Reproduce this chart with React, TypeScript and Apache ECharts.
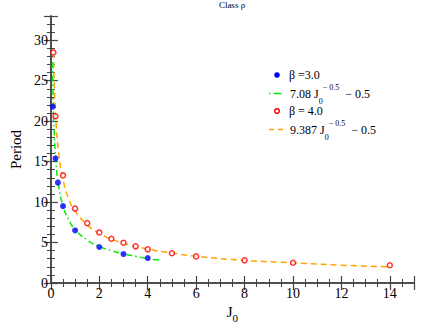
import React, { useEffect, useRef } from "react";
import * as echarts from "echarts";

// β = 3.0 data (blue dots)
const beta3J = [0.08, 0.19, 0.29, 0.5, 1, 2, 3, 4];
const beta3P = [21.8, 15.4, 12.4, 9.5, 6.5, 4.45, 3.58, 3.08];

// β = 4.0 data (red open circles)
const beta4J = [0.1, 0.19, 0.5, 1, 1.5, 2, 2.5, 3, 3.5, 4, 5, 6, 8, 10, 14];
const beta4P = [28.5, 20.6, 13.3, 9.2, 7.4, 6.25, 5.47, 4.98, 4.53, 4.16, 3.67, 3.29, 2.8, 2.5, 2.2];

// Fit curve 7.08 J0^-0.5 - 0.5 (green)
const fit3J = [0.065, 0.1, 0.15, 0.2, 0.3, 0.5, 0.75, 1, 1.5, 2, 2.5, 3, 3.5, 4, 4.6];
const fit3P = [27.3, 21.9, 17.8, 15.3, 12.4, 9.5, 7.7, 6.6, 5.3, 4.5, 4.0, 3.6, 3.3, 3.0, 2.8];

// Fit curve 9.387 J0^-0.5 - 0.5 (orange)
const fit4J = [0.105, 0.15, 0.2, 0.3, 0.5, 0.75, 1, 1.5, 2, 3, 4, 5, 6, 8, 10, 12, 14];
const fit4P = [28.5, 23.7, 20.5, 16.6, 12.8, 10.3, 8.9, 7.2, 6.1, 4.9, 4.2, 3.7, 3.3, 2.8, 2.5, 2.2, 2.0];

const FONT = "Liberation Serif";

const zip = (a: number[], b: number[]) => a.map((v, i) => [v, b[i]]);

export default function App() {
  const ref = useRef<HTMLDivElement>(null);
  useEffect(() => {
    if (!ref.current) return;
    const chart = echarts.init(ref.current, undefined, { renderer: "svg" });
    const axisLine = { show: true, lineStyle: { color: "#444", width: 1.5 } };
    const tick = { show: true, inside: true, length: 7, lineStyle: { color: "#444", width: 1.2 } };
    const xBase = {
      type: "value" as const,
      min: 0,
      max: 15,
      interval: 2,
      axisLine,
      axisTick: tick,
      minorTick: { show: true, splitNumber: 4, length: 4, lineStyle: { color: "#444", width: 1 } },
      splitLine: { show: false },
    };
    const yBase = {
      type: "value" as const,
      min: 0,
      max: 33,
      interval: 5,
      axisLine,
      axisTick: tick,
      minorTick: { show: true, splitNumber: 5, length: 4, lineStyle: { color: "#444", width: 1 } },
      splitLine: { show: false },
    };
    const rich = {
      n: { fontFamily: FONT, fontSize: 12, color: "#000", lineHeight: 22 },
      sub: { fontFamily: FONT, fontSize: 8, color: "#000", verticalAlign: "bottom" as const, lineHeight: 9 },
      sup: { fontFamily: FONT, fontSize: 8, color: "#000", verticalAlign: "top" as const, lineHeight: 9 },
    };
    chart.setOption({
      animation: false,
      backgroundColor: "#fff",
      title: {
        text: "Class ρ",
        left: 232,
        textAlign: "center",
        top: 0,
        padding: 0,
        textStyle: { fontFamily: FONT, fontSize: 9, fontWeight: "normal", color: "#000" },
      },
      grid: { left: 50, right: 17, top: 16, bottom: 50 },
      xAxis: [
        {
          ...xBase,
          position: "bottom",
          name: "J{s|0}",
          nameLocation: "middle",
          nameGap: 12,
          nameTextStyle: {
            fontFamily: FONT,
            fontSize: 15,
            color: "#000",
            rich: { s: { fontFamily: FONT, fontSize: 11, color: "#000", verticalAlign: "bottom", padding: [12, 0, 0, 0] } },
          },
          axisLabel: { fontFamily: FONT, fontSize: 14, color: "#000", margin: 3, showMaxLabel: false },
        },
        { ...xBase, position: "top", axisLabel: { show: false } },
      ],
      yAxis: [
        {
          ...yBase,
          position: "left",
          name: "Period",
          nameLocation: "middle",
          nameGap: 18,
          nameTextStyle: { fontFamily: FONT, fontSize: 15, color: "#000" },
          axisLabel: { fontFamily: FONT, fontSize: 14, color: "#000", margin: 3, showMaxLabel: false,
            formatter: (v: number) => (v % 5 === 0 ? String(v) : "") },
        },
        { ...yBase, position: "right", axisLabel: { show: false } },
      ],
      series: [
        {
          type: "line",
          data: zip(fit3J, fit3P),
          smooth: true,
          showSymbol: false,
          lineStyle: { color: "#00ee00", width: 1.5, type: [6, 3, 1.5, 3] },
          z: 2,
        },
        {
          type: "line",
          data: zip(fit4J, fit4P),
          smooth: true,
          showSymbol: false,
          lineStyle: { color: "#ffa500", width: 1.5, type: [6, 4] },
          z: 2,
        },
        {
          type: "scatter",
          data: zip(beta3J, beta3P),
          symbol: "circle",
          symbolSize: 6,
          itemStyle: { color: "#0000ff" },
          z: 3,
        },
        {
          type: "scatter",
          data: zip(beta4J, beta4P),
          symbol: "circle",
          symbolSize: 5,
          itemStyle: { color: "#fff", borderColor: "#ff0000", borderWidth: 1.5 },
          z: 3,
        },
      ],
      graphic: [
        { type: "circle", shape: { cx: 277, cy: 75, r: 2.8 }, style: { fill: "#0000ff" } },
        { type: "text", x: 289, y: 75, style: { text: "β =3.0", font: `12px ${FONT}`, fill: "#000", verticalAlign: "middle" } },
        { type: "line", shape: { x1: 269, y1: 93.5, x2: 283, y2: 93.5 }, style: { stroke: "#00ee00", lineWidth: 1.5, lineDash: [1.5, 3, 8, 3] } },
        {
          type: "text",
          x: 290,
          y: 94,
          style: { text: "{n|7.08 J}{sub|0}{sup|− 0.5}{n|  − 0.5}", rich, verticalAlign: "middle" },
        },
        { type: "circle", shape: { cx: 277, cy: 111, r: 2.3 }, style: { fill: "#fff", stroke: "#ff0000", lineWidth: 1.5 } },
        { type: "text", x: 289, y: 111, style: { text: "β = 4.0", font: `12px ${FONT}`, fill: "#000", verticalAlign: "middle" } },
        { type: "line", shape: { x1: 269, y1: 129.5, x2: 286, y2: 129.5 }, style: { stroke: "#ffa500", lineWidth: 1.5, lineDash: [5, 4] } },
        {
          type: "text",
          x: 290,
          y: 130,
          style: { text: "{n|9.387 J}{sub|0}{sup|− 0.5}{n|  − 0.5}", rich, verticalAlign: "middle" },
        },
      ],
    });
    return () => chart.dispose();
  }, []);
  return <div ref={ref} style={{ position: "fixed", left: 0, top: 0, width: 431, height: 333 }} />;
}
